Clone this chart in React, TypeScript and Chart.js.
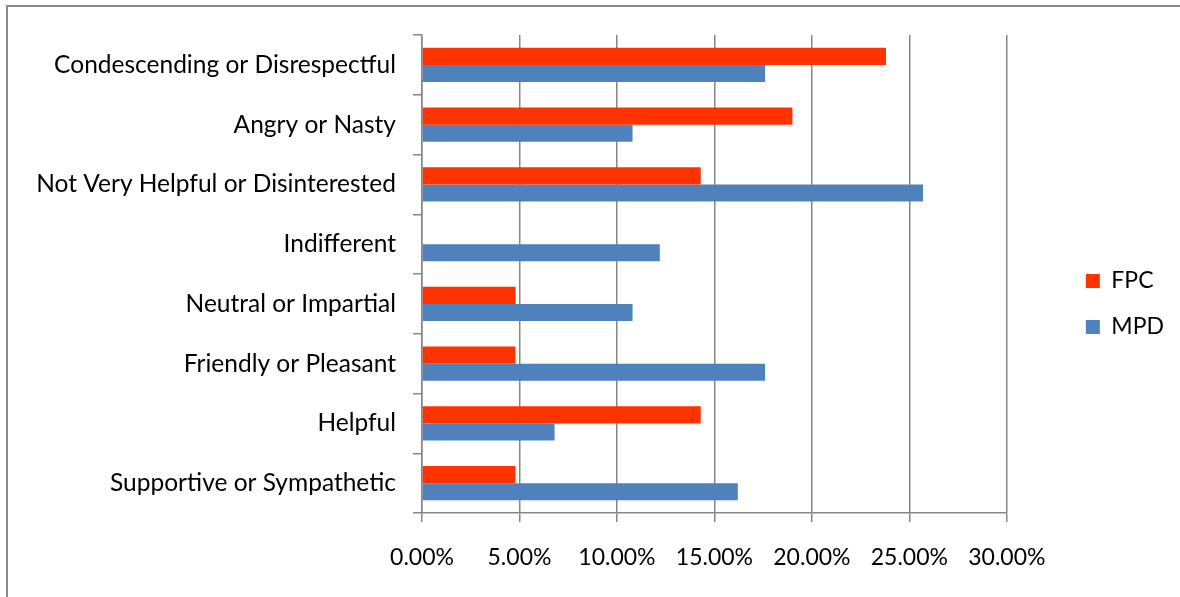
import React, { useEffect, useRef } from "react";
import { Chart, registerables } from "chart.js";

Chart.register(...registerables);

const categories = [
  "Condescending or Disrespectful",
  "Angry or Nasty",
  "Not Very Helpful or Disinterested",
  "Indifferent",
  "Neutral or Impartial",
  "Friendly or Pleasant",
  "Helpful",
  "Supportive or Sympathetic",
];
const fpcValues = [23.8, 19.0, 14.3, 0, 4.8, 4.8, 14.3, 4.8];
const mpdValues = [17.6, 10.8, 25.7, 12.2, 10.8, 17.6, 6.8, 16.2];
const seriesNames = ["FPC", "MPD"];
const xMin = 0;
const xMax = 30;
const xStep = 5;

const FAMILY = "Lato, 'Noto Sans', sans-serif";
const TICK_FONT = { family: FAMILY, size: 23 };
const CAT_FONT = { family: FAMILY, size: 24.5 };
const GRID = "#868686";

const legendShift = {
  id: "legendShift",
  afterLayout(chart: any) {
    const lg = chart.legend;
    if (lg) {
      lg.left += 56;
      lg.right += 56;
    }
  },
};

export default function App() {
  const ref = useRef<HTMLCanvasElement>(null);
  useEffect(() => {
    const chart = new Chart(ref.current!, {
      type: "bar",
      data: {
        labels: categories,
        datasets: [
          { label: seriesNames[0], data: fpcValues, backgroundColor: "#FF3300" },
          { label: seriesNames[1], data: mpdValues, backgroundColor: "#4F81BD" },
        ],
      },
      plugins: [legendShift],
      options: {
        indexAxis: "y",
        responsive: false,
        animation: false,
        layout: { padding: { top: 35, right: 62, bottom: 24, left: 0 } },
        datasets: { bar: { categoryPercentage: 0.57, barPercentage: 1 } },
        scales: {
          x: {
            min: xMin,
            max: xMax,
            ticks: {
              stepSize: xStep,
              callback: (v: any) => Number(v).toFixed(2) + "%",
              color: "#000",
              font: TICK_FONT,
              padding: 22,
              maxRotation: 0,
            },
            grid: { color: GRID, lineWidth: 1.5, tickLength: 9, drawOnChartArea: true },
            border: { color: GRID, width: 1.5 },
            afterFit: (s: any) => {
              s.height = 60;
            },
          },
          y: {
            ticks: { color: "#000", font: CAT_FONT, padding: 17 },
            grid: { offset: true, drawOnChartArea: false, tickLength: 9, color: GRID, lineWidth: 1.5 },
            border: { color: GRID, width: 1.5 },
            afterFit: (s: any) => {
              s.width = 422;
            },
          },
        },
        plugins: {
          legend: {
            position: "right",
            labels: { boxWidth: 14, boxHeight: 14, padding: 23, font: TICK_FONT, color: "#000" },
          },
          tooltip: { enabled: false },
        },
      },
    } as any);
    return () => chart.destroy();
  }, []);
  return (
    <div style={{ position: "absolute", left: 0, top: 0, width: 1180, height: 597, overflow: "hidden", background: "#fff" }}>
      <canvas ref={ref} width={1180} height={597} style={{ position: "absolute", left: 0, top: 0 }} />
      <div
        style={{
          position: "absolute",
          left: 6,
          top: 5,
          width: 2000,
          height: 2000,
          borderLeft: "2px solid #8a8a8a",
          borderTop: "2px solid #8a8a8a",
          pointerEvents: "none",
        }}
      />
    </div>
  );
}
